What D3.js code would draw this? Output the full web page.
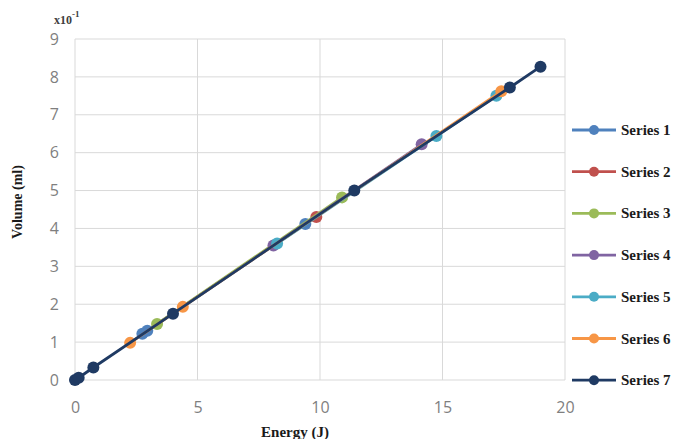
<!DOCTYPE html>
<html>
<head>
<meta charset="utf-8">
<script src="https://cdn.jsdelivr.net/npm/d3@7"></script>
<style>
  body { margin: 0; background: #fff; }
  .tick text { font-family: "Open Sans", "Liberation Sans", sans-serif; fill: #7f7f7f; }
  .bold { font-family: "Liberation Serif", "DejaVu Serif", serif; font-weight: bold; fill: #1a1a1a; }
</style>
</head>
<body>
<script>
var svgWidth = 683;
var svgHeight = 439;

var margin = { top: 39, right: 118, bottom: 59, left: 75 };
var width = svgWidth - margin.left - margin.right;
var height = svgHeight - margin.top - margin.bottom;

// values: [energy (J), volume (ml x10^-1)]
var series1 = [[2.75, 1.22], [2.95, 1.30], [9.4, 4.12]];
var series2 = [[9.85, 4.30]];
var series3 = [[3.35, 1.48], [10.9, 4.82]];
var series4 = [[8.1, 3.55], [14.15, 6.22]];
var series5 = [[8.25, 3.6], [14.75, 6.44], [17.2, 7.5]];
var series6 = [[2.25, 0.98], [4.4, 1.93], [17.4, 7.62]];
var series7 = [[0, 0], [0.15, 0.06], [0.75, 0.33], [4.0, 1.75], [11.4, 5.0], [17.75, 7.72], [19.0, 8.27]];

var seriesNames = ["Series 1", "Series 2", "Series 3", "Series 4", "Series 5", "Series 6", "Series 7"];
var seriesColors = ["#4f81bd", "#c0504d", "#9bbb59", "#8064a2", "#4bacc6", "#f79646", "#1f3a63"];
var allSeries = [series1, series2, series3, series4, series5, series6, series7];

var xTicks = [0, 5, 10, 15, 20];
var yTicks = [0, 1, 2, 3, 4, 5, 6, 7, 8, 9];

var svg = d3.select("body")
  .append("svg")
  .attr("width", svgWidth)
  .attr("height", svgHeight);

var chart = svg.append("g")
  .attr("transform", "translate(" + margin.left + "," + margin.top + ")");

var xScale = d3.scaleLinear().domain([0, 20]).range([0, width]);
var yScale = d3.scaleLinear().domain([0, 9]).range([height, 0]);

// gridlines
chart.append("g")
  .selectAll("line.h")
  .data(yTicks)
  .enter().append("line")
  .attr("x1", 0).attr("x2", width)
  .attr("y1", d => yScale(d)).attr("y2", d => yScale(d))
  .attr("stroke", "#d9d9d9").attr("stroke-width", 1);

chart.append("g")
  .selectAll("line.v")
  .data(xTicks)
  .enter().append("line")
  .attr("x1", d => xScale(d)).attr("x2", d => xScale(d))
  .attr("y1", 0).attr("y2", height)
  .attr("stroke", "#d9d9d9").attr("stroke-width", 1);

// axes (labels only)
var bottomAxis = d3.axisBottom(xScale).tickValues(xTicks).tickSize(0).tickPadding(22);
var leftAxis = d3.axisLeft(yScale).tickValues(yTicks).tickSize(0).tickPadding(16);

chart.append("g")
  .attr("transform", "translate(0," + height + ")")
  .call(bottomAxis)
  .call(g => g.select(".domain").remove())
  .selectAll("text").style("font-size", "16px");

chart.append("g")
  .call(leftAxis)
  .call(g => g.select(".domain").remove())
  .selectAll("text").style("font-size", "16px");

var line = d3.line()
  .x(d => xScale(d[0]))
  .y(d => yScale(d[1]));

allSeries.forEach(function(data, i) {
  var grp = chart.append("g");
  grp.append("path")
    .datum(data)
    .attr("d", line)
    .attr("fill", "none")
    .attr("stroke", seriesColors[i])
    .attr("stroke-width", 2.8);
  grp.selectAll("circle")
    .data(data)
    .enter().append("circle")
    .attr("cx", d => xScale(d[0]))
    .attr("cy", d => yScale(d[1]))
    .attr("r", 6)
    .attr("fill", seriesColors[i]);
});

// axis titles
svg.append("text")
  .attr("class", "bold")
  .attr("x", 295).attr("y", 437)
  .attr("text-anchor", "middle")
  .style("font-size", "15px")
  .text("Energy (J)");

svg.append("text")
  .attr("class", "bold")
  .attr("transform", "translate(22,202) rotate(-90)")
  .attr("text-anchor", "middle")
  .style("font-size", "14px")
  .text("Volume (ml)");

var expo = svg.append("text")
  .attr("class", "bold")
  .attr("x", 54).attr("y", 24)
  .style("font-size", "12px")
  .style("fill", "#404040");
expo.append("tspan").text("x10");
expo.append("tspan").attr("dy", -7).style("font-size", "9px").text("-1");

// legend
var legend = svg.append("g")
  .attr("transform", "translate(572,130)");

var item = legend.selectAll("g")
  .data(seriesNames)
  .enter().append("g")
  .attr("transform", (d, i) => "translate(0," + (i * 41.7) + ")");

item.append("line")
  .attr("x1", 0).attr("x2", 44)
  .attr("stroke", (d, i) => seriesColors[i])
  .attr("stroke-width", 2.8);

item.append("circle")
  .attr("cx", 22).attr("r", 5)
  .attr("fill", (d, i) => seriesColors[i]);

item.append("text")
  .attr("class", "bold")
  .attr("x", 49).attr("y", 5)
  .style("font-size", "15px")
  .text(d => d);
</script>
</body>
</html>
